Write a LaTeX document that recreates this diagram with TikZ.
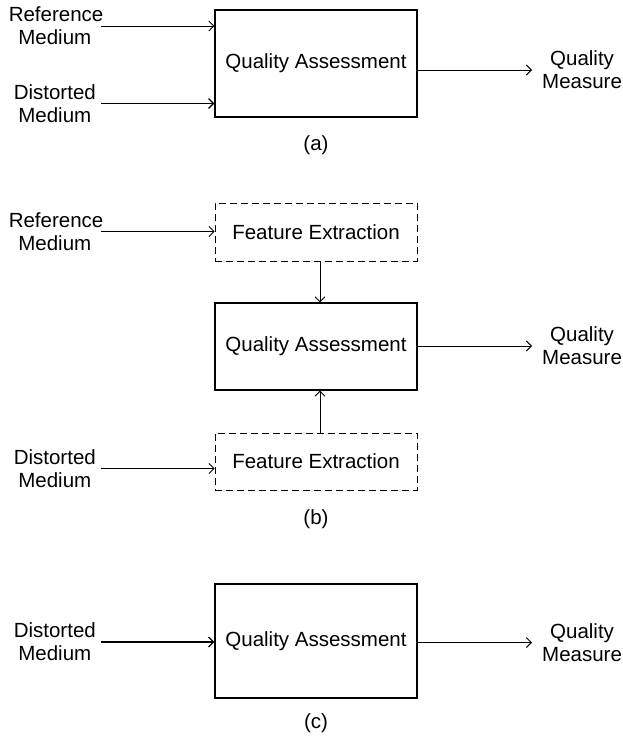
\documentclass[tikz,border=0pt]{standalone}
\usepackage{fontspec}
\setmainfont{Liberation Sans}
\usetikzlibrary{positioning,arrows.meta}

\begin{document}
\begin{tikzpicture}[x=1pt, y=-1pt]
        \tikzstyle{every node}=[font=\fontsize{20.5}{23}\selectfont, inner sep=0pt]
        \tikzstyle{block}=[draw, line width=1.1pt, minimum width=202pt]
        \tikzstyle{fe}=[block, dash pattern=on 7pt off 4pt, line width=0.9pt]
        \tikzstyle{src}=[align=center, text width=92pt, anchor=east]
        \tikzstyle{dst}=[align=center, inner xsep=10pt, anchor=west]
        \tikzstyle{link}=[-{Straight Barb[length=5pt,width=10pt]}, line width=0.9pt]

        \useasboundingbox (0,0) rectangle (622,739);

        % (a)
        \node[block, minimum height=107pt] (qa1) at (316,63.5) {Quality Assessment};
        \node[src] (ref1) at (101,26) {Reference\\Medium};
        \node[src] (dis1) at (101,103.5) {Distorted\\Medium};
        \node[dst] (qm1) at (532,70) {Quality\\Measure};
        \node (capa) at (316,145) {(a)};

        \draw[link] (ref1.east) -- (ref1.east -| qa1.west);
        \draw[link, line width=1.3pt] (dis1.east) -- (dis1.east -| qa1.west);
        \draw[link] (qa1.east |- qm1.west) -- (qm1.west);

        % (b)
        \node[fe, minimum height=58pt] (fe1) at (316,232) {Feature Extraction};
        \node[block, minimum height=87pt] (qa2) at (316,346.5) {Quality Assessment};
        \node[fe, minimum height=57pt] (fe2) at (316,461.5) {Feature Extraction};
        \node[src] (ref2) at (101,231.5) {Reference\\Medium};
        \node[src] (dis2) at (101,468.5) {Distorted\\Medium};
        \node[dst] (qm2) at (532,346) {Quality\\Measure};
        \node (capb) at (316,519) {(b)};

        \draw[link] (ref2.east) -- (ref2.east -| fe1.west);
        \draw[link] (dis2.east) -- (dis2.east -| fe2.west);
        \draw[link] ([xshift=4pt]fe1.south) -- ([xshift=4pt]qa2.north);
        \draw[link] ([xshift=4pt]fe2.north) -- ([xshift=4pt]qa2.south);
        \draw[link] (qa2.east |- qm2.west) -- (qm2.west);

        % (c)
        \node[block, minimum height=114pt] (qa3) at (316,641) {Quality Assessment};
        \node[src] (dis3) at (101,642) {Distorted\\Medium};
        \node[dst] (qm3) at (532,642.5) {Quality\\Measure};
        \node (capc) at (316,723) {(c)};

        \draw[link, line width=1.3pt] (dis3.east) -- (dis3.east -| qa3.west);
        \draw[link] (qa3.east |- qm3.west) -- (qm3.west);
    \end{tikzpicture}
\end{document}
